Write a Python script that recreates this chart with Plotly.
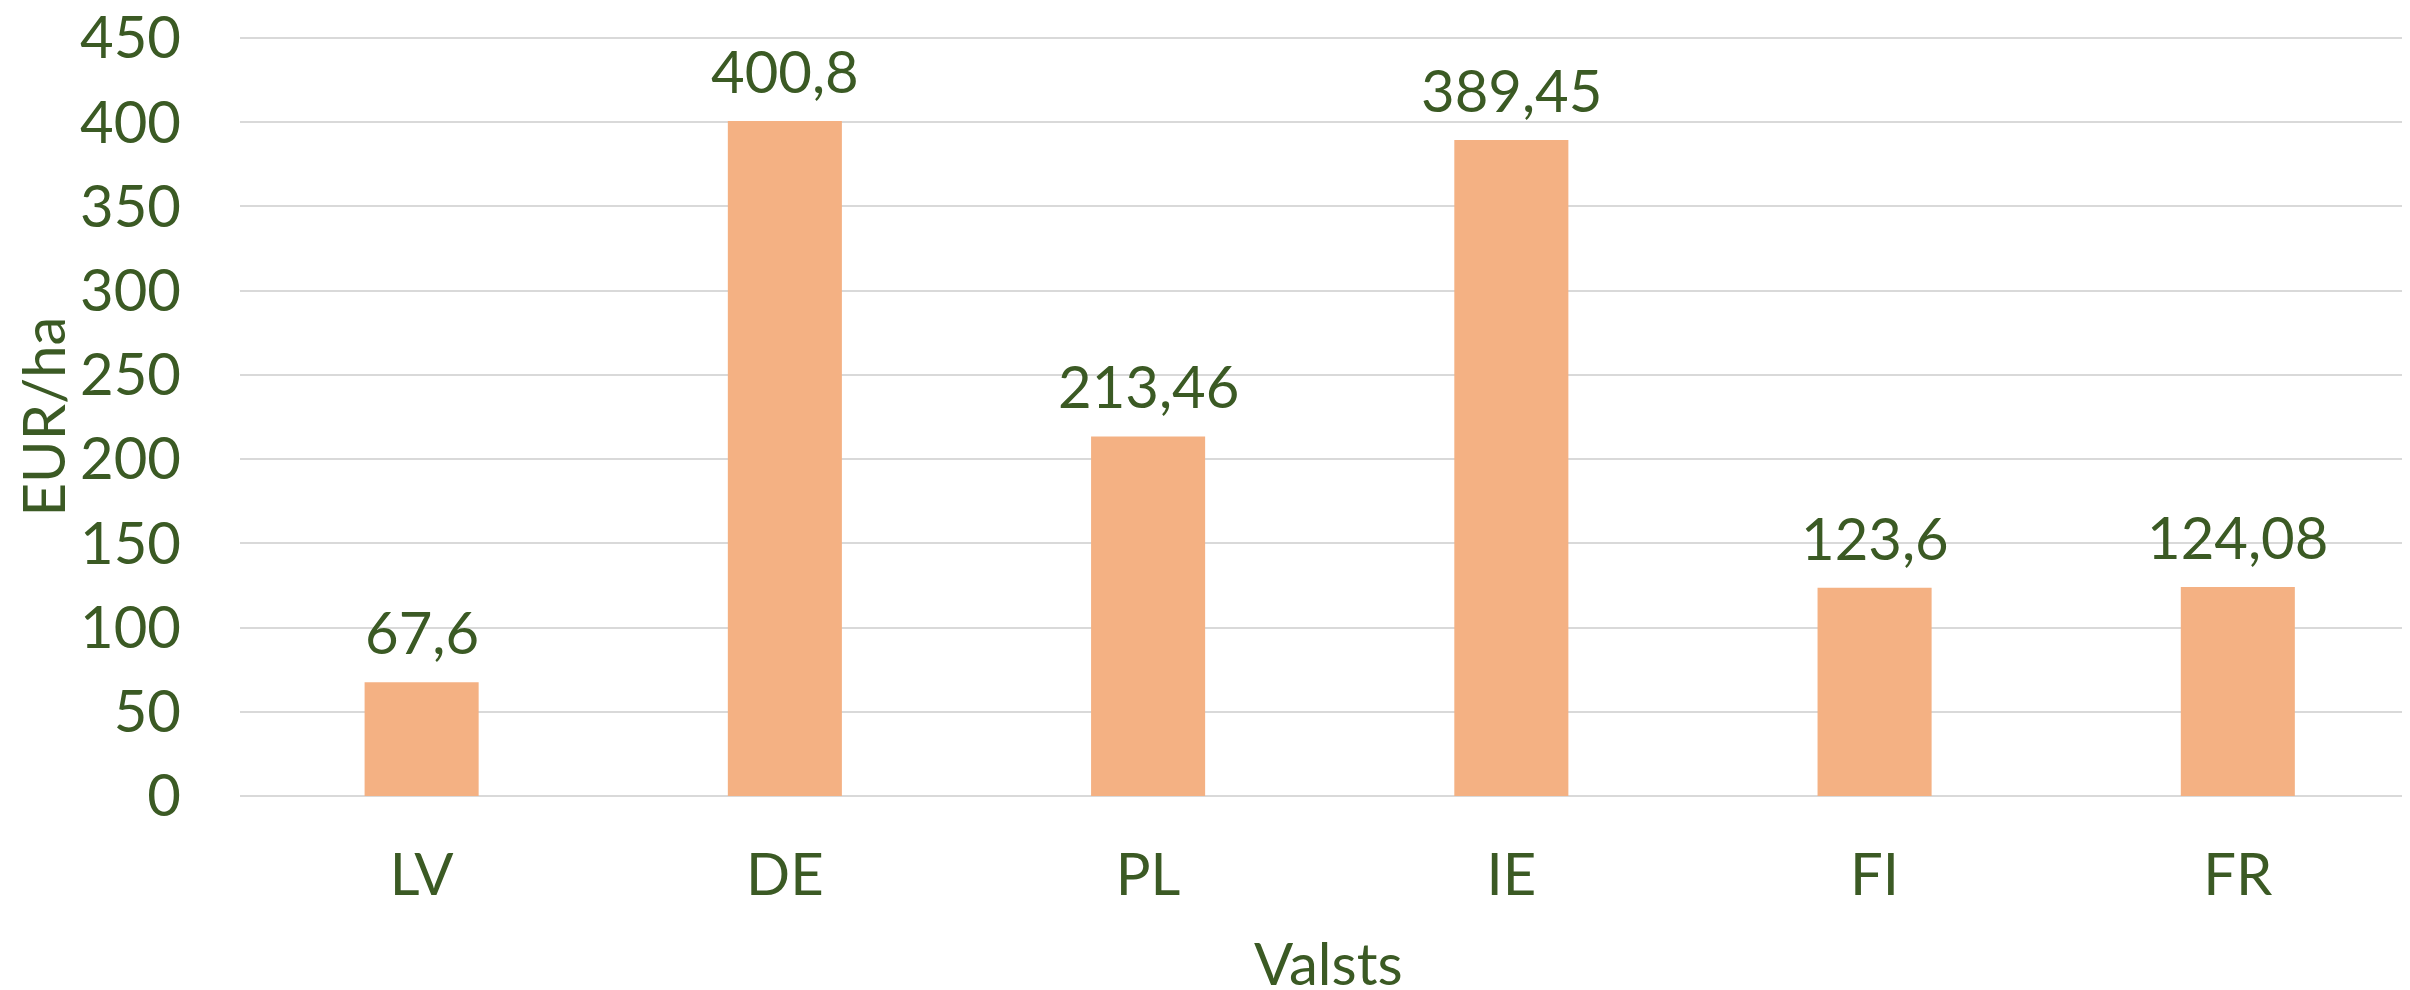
import plotly.graph_objects as go

categories = ["LV", "DE", "PL", "IE", "FI", "FR"]
values = [67.6, 400.8, 213.46, 389.45, 123.6, 124.08]
value_labels = ["67,6", "400,8", "213,46", "389,45", "123,6", "124,08"]
y_ticks = [0, 50, 100, 150, 200, 250, 300, 350, 400, 450]

GREEN = "#3B5A24"
BAR = "#F4B183"
GRID = "#D9D9D9"
FONT = "Lato"
FS = 58

fig = go.Figure()
fig.add_trace(go.Bar(x=categories, y=values, marker=dict(color=BAR, line=dict(width=0)),
                     width=0.314, hoverinfo="skip"))

for c, v, t in zip(categories, values, value_labels):
    fig.add_annotation(x=c, y=v, text=t, showarrow=False, yanchor="bottom",
                       yshift=14, font=dict(family=FONT, size=FS, color=GREEN))

fig.add_annotation(x=0.5018, y=0, xref="paper", yref="paper", yanchor="top",
                   yshift=-130, text="Valsts", showarrow=False,
                   font=dict(family=FONT, size=FS, color=GREEN))

fig.update_layout(
    width=2402, height=982,
    margin=dict(l=232, r=0, t=29, b=194, autoexpand=False),
    paper_bgcolor="white", plot_bgcolor="white",
    showlegend=False,
    font=dict(family=FONT, color=GREEN, size=FS),
)
fig.update_xaxes(range=[-0.5, 5.474], showgrid=False, showline=False, ticks="",
                 automargin=False,
                 tickfont=dict(family=FONT, size=FS, color=GREEN),
                 ticklabelstandoff=40)
fig.update_yaxes(range=[0, 450.6], tickvals=y_ticks, showgrid=True, gridcolor=GRID,
                 gridwidth=2, zeroline=True, zerolinecolor=GRID, zerolinewidth=2,
                 showline=False, ticks="", ticklabeloverflow="allow",
                 automargin=False,
                 tickfont=dict(family=FONT, size=FS, color=GREEN),
                 ticklabelstandoff=58,
                 title=dict(text="EUR/ha", standoff=38,
                            font=dict(family=FONT, size=FS, color=GREEN)))

fig.write_html("out.html")
